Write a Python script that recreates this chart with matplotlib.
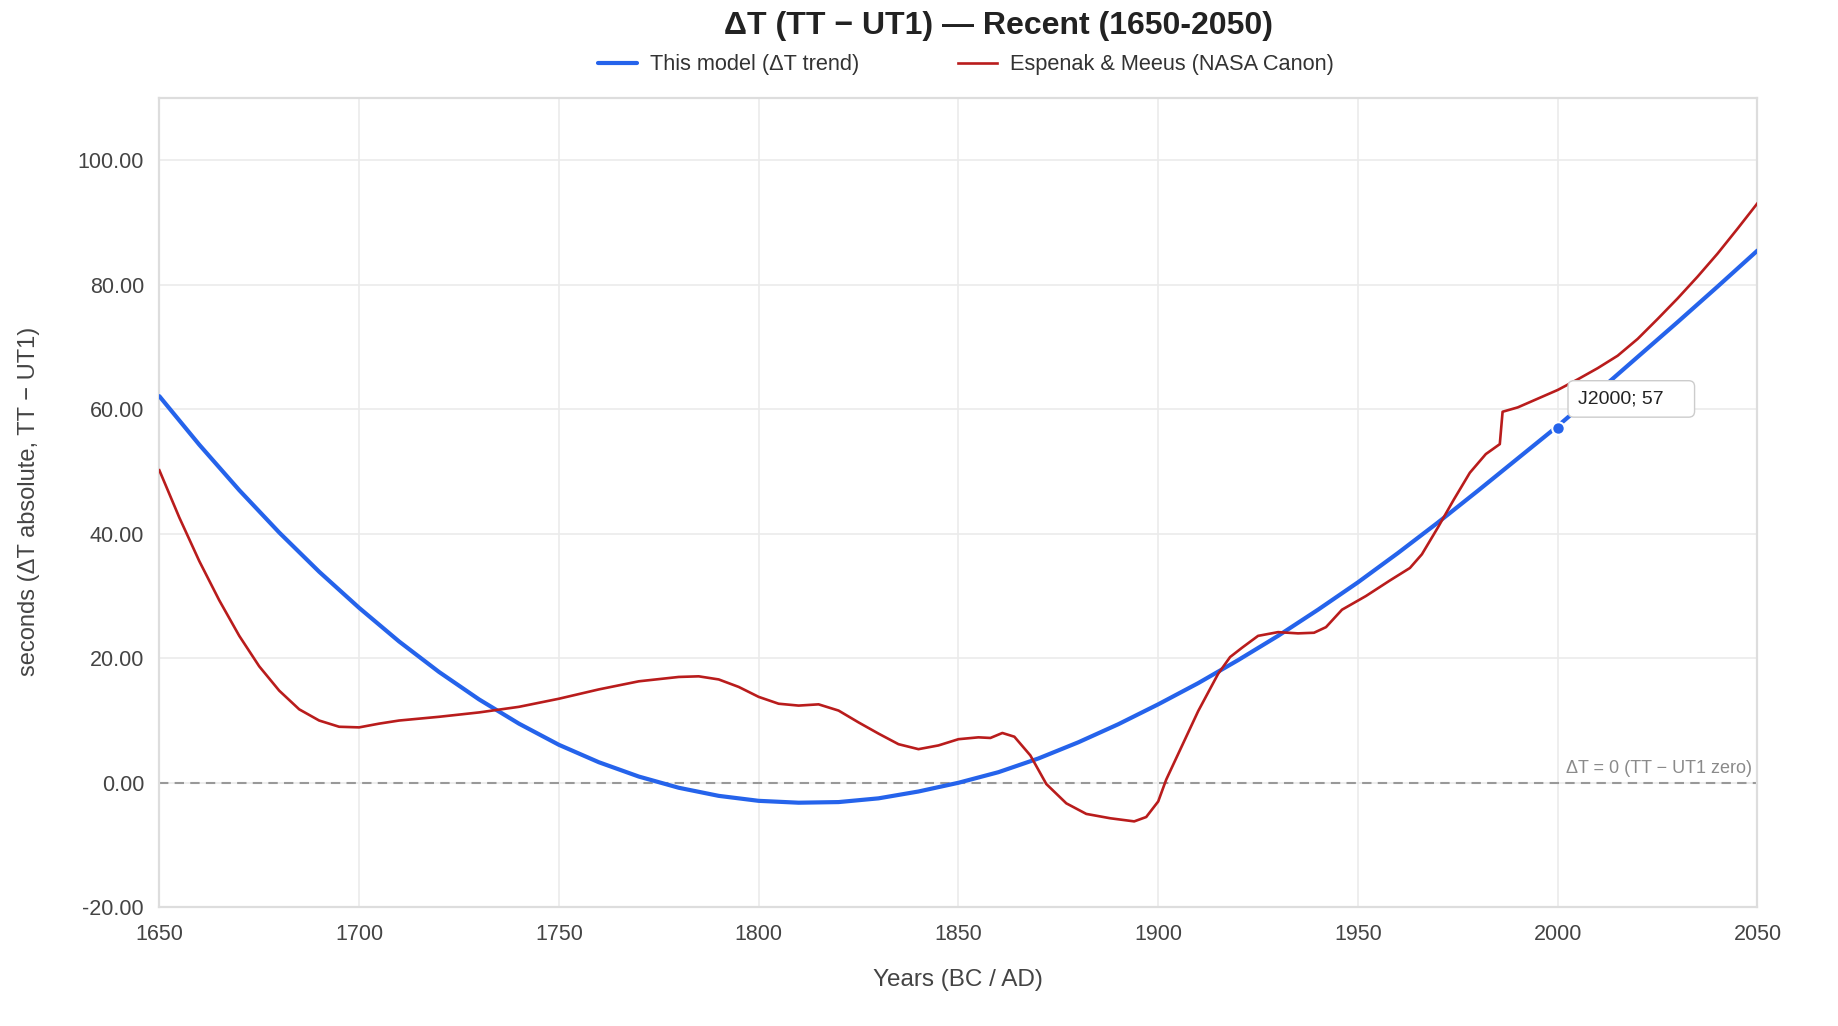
import matplotlib
matplotlib.use('Agg')
import matplotlib.pyplot as plt
from matplotlib import rcParams

rcParams['font.family'] = ['Liberation Sans', 'DejaVu Sans']

# this model (delta T trend), read every 10 years
model_years = [1650, 1660, 1670, 1680, 1690, 1700, 1710, 1720, 1730, 1740,
               1750, 1760, 1770, 1780, 1790, 1800, 1810, 1820, 1830, 1840,
               1850, 1860, 1870, 1880, 1890, 1900, 1910, 1920, 1930, 1940,
               1950, 1960, 1970, 1980, 1990, 2000, 2010, 2020, 2030, 2040, 2050]
model_dt = [62.1, 54.3, 47.0, 40.2, 33.9, 28.1, 22.7, 17.8, 13.4, 9.5,
            6.1, 3.3, 1.0, -0.8, -2.1, -2.9, -3.2, -3.1, -2.5, -1.4,
            0.0, 1.7, 3.9, 6.5, 9.4, 12.6, 16.0, 19.7, 23.6, 27.8,
            32.2, 36.9, 41.8, 46.9, 52.1, 57.3, 62.8, 68.4, 74.0, 79.7, 85.5]

# Espenak & Meeus (NASA Canon)
nasa_years = [1650, 1655, 1660, 1665, 1670, 1675, 1680, 1685, 1690, 1695,
              1700, 1705, 1710, 1720, 1730, 1740, 1750, 1760, 1770, 1780,
              1785, 1790, 1795, 1800, 1805, 1810, 1815, 1820, 1825, 1830,
              1835, 1840, 1845, 1850, 1855, 1858, 1861, 1864, 1868, 1872,
              1877, 1882, 1888, 1894, 1897, 1900, 1902, 1906, 1910, 1915,
              1918, 1921, 1925, 1930, 1935, 1939, 1942, 1946, 1952, 1958,
              1963, 1966, 1970, 1974, 1978, 1982, 1985.5, 1986.2, 1990, 1995,
              2000, 2005, 2010, 2015, 2020, 2025, 2030, 2035, 2040, 2045, 2050]
nasa_dt = [50.2, 42.6, 35.6, 29.3, 23.6, 18.7, 14.8, 11.8, 10.0, 9.0,
           8.9, 9.5, 10.0, 10.6, 11.3, 12.2, 13.5, 15.0, 16.3, 17.0,
           17.1, 16.6, 15.4, 13.8, 12.7, 12.4, 12.6, 11.6, 9.7, 7.9,
           6.2, 5.4, 6.0, 7.0, 7.3, 7.2, 8.0, 7.4, 4.4, -0.2,
           -3.3, -5.0, -5.7, -6.2, -5.5, -3.0, 0.5, 6.0, 11.5, 17.5,
           20.2, 21.7, 23.6, 24.2, 24.0, 24.1, 25.0, 27.8, 30.0, 32.5,
           34.5, 36.7, 41.0, 45.5, 49.8, 52.8, 54.4, 59.6, 60.3, 61.7,
           63.1, 64.8, 66.6, 68.6, 71.3, 74.5, 77.8, 81.3, 85.0, 89.0, 93.1]

j2000_year = 2000
j2000_dt = 57

xticks = [1650, 1700, 1750, 1800, 1850, 1900, 1950, 2000, 2050]
yticks = [-20, 0, 20, 40, 60, 80, 100]

blue = '#2563eb'
red = '#b91c1c'

fig = plt.figure(figsize=(18.38, 10.26), dpi=100)
ax = fig.add_axes([0.0867, 0.1157, 0.8695, 0.7888])

ax.plot(model_years, model_dt, color=blue, lw=3.0, zorder=3,
        solid_capstyle='round', solid_joinstyle='round',
        label='This model (ΔT trend)')
ax.plot(nasa_years, nasa_dt, color=red, lw=1.9, zorder=3,
        solid_joinstyle='round', label='Espenak & Meeus (NASA Canon)')

# zero reference
ax.axhline(0, color='#999999', lw=1.5, dashes=(4.5, 3), zorder=2)
ax.text(2048.5, 1.0, 'ΔT = 0 (TT − UT1 zero)', ha='right', va='bottom',
        fontsize=13, color='#8a8a8a', zorder=4)

# J2000 marker
ax.plot([j2000_year], [j2000_dt], 'o', color=blue, ms=9,
        mec='white', mew=1.5, zorder=5)
ax.annotate('J2000; 57    ', xy=(j2000_year, j2000_dt), xytext=(20, 29),
            textcoords='offset pixels', ha='left', va='center',
            fontsize=14, color='#222222', zorder=6,
            bbox=dict(boxstyle='round,pad=0.5,rounding_size=0.3',
                      fc='white', ec='#cccccc', lw=1))

ax.set_xlim(1650, 2050)
ax.set_ylim(-20, 110)
ax.set_xticks(xticks)
ax.set_yticks(yticks)
ax.set_yticklabels(['%.2f' % v for v in yticks])
ax.tick_params(length=0, labelsize=15.5, labelcolor='#444444')
ax.tick_params(axis='x', pad=12)
ax.tick_params(axis='y', pad=11)
ax.grid(True, color='#ebebeb', lw=1.2, zorder=0)
ax.set_axisbelow(True)
for s in ax.spines.values():
    s.set_color('#dddddd')
    s.set_linewidth(1.6)

fig.text(0.5435, 0.975, 'ΔT (TT − UT1) — Recent (1650-2050)', ha='center',
         va='center', fontsize=23, fontweight='bold', color='#222222')
fig.legend(loc='center', bbox_to_anchor=(0.5255, 0.937), ncol=2,
           frameon=False, fontsize=15.7, handlelength=1.8, handletextpad=0.6,
           columnspacing=4.5, labelcolor='#333333')
fig.text(0.521, 0.0445, 'Years (BC / AD)', ha='center', va='center',
         fontsize=17.5, color='#444444')
fig.text(0.016, 0.511, 'seconds (ΔT absolute, TT − UT1)', ha='center',
         va='center', rotation=90, fontsize=17, color='#444444')

fig.savefig('out.png', dpi=100)
